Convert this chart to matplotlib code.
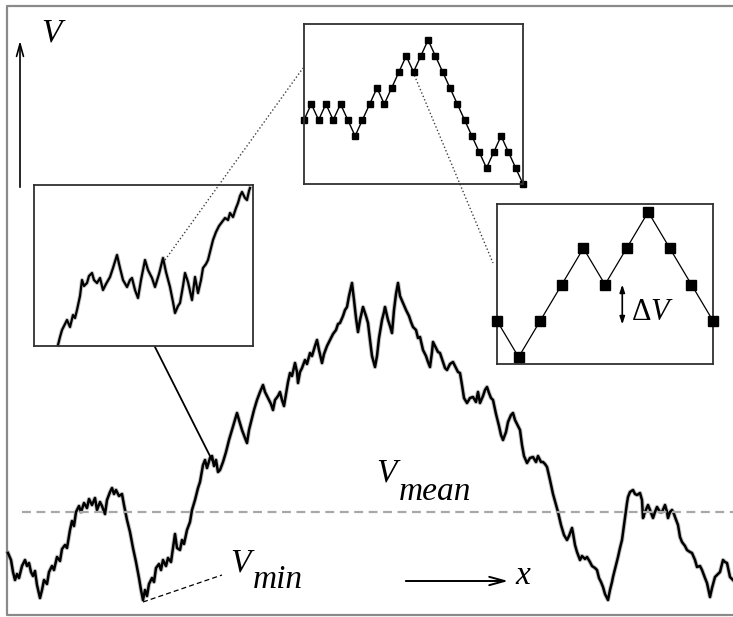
# Rough potential landscape V(x) with two successive zooms onto the
# discrete walk underneath it.

import matplotlib.pyplot as plt

W, H = 733, 617  # canvas size, y grows downward

# main landscape, (x, depth) in canvas units
main_trace = [
    (8, 553), (11, 560), (13, 572), (15, 580), (17, 574), (19, 578), (22, 566),
    (25, 560), (27, 566), (29, 563), (31, 572), (33, 576), (35, 571), (37, 585),
    (40, 598), (42, 590), (44, 580), (47, 584), (49, 572), (52, 566), (54, 570),
    (57, 557), (60, 561), (62, 549), (65, 545), (67, 548), (70, 530), (72, 521),
    (74, 526), (76, 512), (79, 506), (81, 512), (84, 503), (87, 508), (89, 499),
    (92, 505), (95, 498), (97, 510), (100, 502), (102, 506), (105, 514),
    (107, 500), (110, 492), (112, 488), (114, 494), (116, 490), (119, 496),
    (122, 494), (124, 505), (127, 520), (130, 532), (133, 548), (136, 562),
    (139, 578), (141, 590), (143, 600), (145, 590), (147, 596), (149, 584),
    (152, 578), (154, 582), (156, 568), (159, 564), (161, 570), (163, 560),
    (166, 566), (168, 558), (171, 562), (173, 548), (175, 534), (177, 548),
    (180, 550), (182, 540), (184, 544), (187, 530), (190, 522), (192, 510),
    (195, 500), (198, 488), (200, 482), (203, 465), (205, 460), (207, 468),
    (210, 458), (212, 456), (214, 466), (216, 460), (218, 472), (220, 470),
    (223, 462), (226, 452), (229, 440), (232, 430), (235, 420), (237, 413),
    (239, 420), (242, 430), (245, 438), (247, 443), (249, 430), (251, 422),
    (254, 410), (257, 400), (260, 392), (263, 385), (265, 392), (268, 398),
    (271, 404), (273, 410), (275, 400), (278, 396), (280, 392), (282, 400),
    (284, 406), (286, 394), (288, 382), (290, 373), (292, 376), (295, 363),
    (297, 372), (298, 383), (300, 372), (302, 368), (305, 360), (307, 364),
    (310, 353), (312, 356), (315, 346), (317, 340), (319, 350), (322, 363),
    (324, 354), (327, 346), (330, 340), (333, 334), (336, 330), (338, 324),
    (340, 323), (343, 316), (345, 310), (347, 307), (349, 296), (352, 283),
    (354, 300), (356, 318), (358, 332), (360, 320), (363, 307), (366, 316),
    (368, 323), (370, 340), (372, 356), (375, 367), (377, 356), (379, 338),
    (382, 320), (384, 312), (385, 307), (388, 320), (390, 326), (392, 333),
    (394, 310), (396, 294), (398, 283), (400, 296), (403, 303), (406, 310),
    (409, 316), (411, 322), (413, 327), (416, 330), (418, 338), (420, 337),
    (423, 350), (426, 356), (428, 362), (430, 367), (432, 352), (433, 342),
    (436, 348), (438, 352), (440, 353), (443, 362), (445, 368), (447, 370),
    (450, 364), (453, 362), (456, 368), (458, 372), (460, 373), (462, 385),
    (464, 398), (467, 403), (470, 398), (473, 397), (476, 402), (478, 392),
    (480, 403), (483, 396), (485, 390), (487, 387), (489, 393), (491, 398),
    (493, 400), (496, 414), (499, 426), (501, 435), (503, 440), (506, 432),
    (508, 422), (511, 415), (513, 413), (515, 420), (518, 426), (520, 430),
    (522, 445), (524, 456), (527, 463), (530, 458), (533, 457), (536, 462),
    (538, 456), (541, 462), (543, 462), (545, 464), (547, 467), (550, 480),
    (553, 494), (556, 505), (558, 512), (561, 525), (564, 535), (567, 540),
    (569, 536), (572, 528), (573, 533), (575, 545), (577, 552), (580, 560),
    (582, 556), (585, 559), (587, 557), (590, 562), (592, 566), (595, 568),
    (597, 570), (599, 578), (601, 582), (603, 587), (605, 594), (607, 598),
    (608, 600), (610, 590), (612, 582), (613, 577), (616, 565), (618, 557),
    (620, 548), (622, 540), (624, 525), (625, 517), (627, 503), (628, 497),
    (630, 492), (633, 490), (635, 494), (637, 495), (640, 493), (642, 500),
    (643, 518), (645, 512), (648, 505), (650, 510), (653, 518), (655, 512),
    (657, 507), (660, 512), (662, 512), (665, 505), (667, 512), (668, 518),
    (670, 512), (672, 510), (674, 514), (675, 517), (678, 525), (680, 537),
    (682, 542), (685, 546), (687, 550), (690, 552), (692, 553), (695, 560),
    (697, 567), (700, 566), (702, 570), (705, 578), (707, 583), (709, 592),
    (710, 597), (712, 588), (715, 577), (717, 575), (720, 572), (722, 564),
    (723, 560), (725, 562), (727, 563), (729, 572), (730, 577), (733, 580),
]
x_main, v_main = zip(*main_trace)
v_mean = 512
x_vmin, v_vmin = 143, 602

# first zoom: (x, height) inside its own box
zoom1_trace = [
    (24, 1), (26, 9), (28, 16), (31, 22), (33, 26), (36, 19), (39, 31),
    (41, 28), (43, 36), (46, 50), (48, 66), (50, 60), (53, 63), (55, 70),
    (58, 73), (60, 66), (63, 63), (66, 68), (69, 56), (72, 62), (76, 69),
    (79, 78), (83, 91), (86, 78), (89, 66), (93, 59), (96, 66), (98, 68),
    (101, 56), (104, 48), (107, 66), (111, 86), (114, 76), (118, 68),
    (121, 59), (125, 72), (129, 88), (132, 74), (136, 59), (139, 44),
    (141, 33), (144, 40), (146, 43), (149, 60), (151, 73), (154, 64),
    (158, 46), (161, 69), (164, 53), (167, 66), (169, 78), (172, 82),
    (174, 86), (177, 98), (179, 106), (182, 114), (185, 120), (188, 124),
    (191, 128), (194, 126), (196, 133), (199, 129), (202, 138), (204, 143),
    (206, 150), (208, 154), (211, 148), (213, 146), (215, 155), (216, 158),
]
x_zoom1, v_zoom1 = zip(*zoom1_trace)

# second zoom: the walk, one level per step
walk_levels = [0, 1, 0, 1, 0, 1, 0, -1, 0, 1, 2, 1, 2, 3, 4, 3, 4, 5, 4, 3,
               2, 1, 0, -1, -2, -3, -2, -1, -2, -3, -4]
# third zoom: a few steps of the walk
step_levels = [0, -1, 0, 1, 2, 1, 2, 3, 2, 1, 0]

SERIF = 'Liberation Serif'
plt.rcParams['mathtext.fontset'] = 'custom'
plt.rcParams['mathtext.rm'] = SERIF
plt.rcParams['mathtext.it'] = SERIF + ':italic'


def box(left, top, right, bottom):
    """Canvas box -> figure fraction rect."""
    return [left / W, 1 - bottom / H, (right - left) / W, (bottom - top) / H]


def framed(fig, rect):
    a = fig.add_axes(rect)
    a.set_facecolor('none')
    a.set_xticks([])
    a.set_yticks([])
    for s in a.spines.values():
        s.set_linewidth(1.3)
        s.set_color('#303030')
    return a


def rough_line(a, xs, ys, lw, **kw):
    # soft grey underlay gives the noisy trace its fuzzy edge
    a.plot(xs, ys, color='#555555', lw=lw + 1.4, alpha=0.35, **kw)
    a.plot(xs, ys, color='black', lw=lw, **kw)


fig = plt.figure(figsize=(W / 100, H / 100), dpi=100)
ax = fig.add_axes([0, 0, 1, 1])
ax.set_xlim(0, W)
ax.set_ylim(H, 0)
ax.axis('off')

# outer frame (open on the right)
ax.plot([W + 5, 7, 7, W + 5], [6, 6, 615, 615], color='#8a8a8a', lw=1.6,
        clip_on=False)

rough_line(ax, x_main, v_main, 1.8)
ax.axhline(v_mean, xmin=22 / W, color='#a8a8a8', lw=1.6, dashes=(4, 2.5))

# V_min pointer
ax.plot([x_vmin, 222], [v_vmin, 575], color='black', lw=0.9, dashes=(4, 2.5))

# connectors between the zoom levels
ax.plot([165, 303], [260, 68], color='#404040', lw=1.0, ls=':')
ax.plot([413, 493], [72, 263], color='#404040', lw=1.0, ls=':')
ax.plot([155, 212], [347, 460], color='black', lw=1.3)

# axis arrows
ax.annotate('', xy=(20, 38), xytext=(20, 190),
            arrowprops=dict(arrowstyle='->,head_length=0.9,head_width=0.25',
                            color='black', lw=1.2))
ax.annotate('', xy=(511, 581), xytext=(403, 581),
            arrowprops=dict(arrowstyle='->,head_length=1.1,head_width=0.3',
                            color='black', lw=1.4))

txt = dict(family=SERIF, style='italic', fontsize=24, color='black')
ax.text(41, 42, 'V', ha='left', va='baseline', **txt)
ax.text(515, 584, 'x', ha='left', va='baseline', **txt)
ax.text(376, 482, 'V', ha='left', va='baseline', **txt)
ax.text(399, 500, 'mean', ha='left', va='baseline', **txt)
ax.text(230, 572, 'V', ha='left', va='baseline', **txt)
ax.text(253, 588, 'min', ha='left', va='baseline', **txt)

# zoom 1: rough stretch of the landscape
ax1 = framed(fig, box(34, 185, 253, 346))
ax1.set_xlim(0, 219)
ax1.set_ylim(0, 161)
rough_line(ax1, x_zoom1, v_zoom1, 1.6, clip_on=False)

# zoom 2: the walk with unit steps
ax2 = framed(fig, box(304, 24, 523, 184))
ax2.set_xlim(0, len(walk_levels) - 1)
ax2.set_ylim(-4, 6)
ax2.plot(range(len(walk_levels)), walk_levels, color='black', lw=1.0,
         marker='s', ms=3.8, clip_on=False)

# zoom 3: single steps of height dV
ax3 = framed(fig, box(497, 204, 713, 364))
ax3.set_xlim(0, len(step_levels) - 1)
ax3.set_ylim(-1.19, 3.22)
ax3.plot(range(len(step_levels)), step_levels, color='black', lw=0.9,
         marker='s', ms=7, clip_on=False, zorder=3)
ax3.annotate('', xy=(5.8, 1.0), xytext=(5.8, -0.1),
             arrowprops=dict(arrowstyle='<|-|>,head_length=0.45,head_width=0.15',
                             color='black', lw=1.2, shrinkA=0, shrinkB=0))
ax3.text(6.2, 0.03, r'$\mathrm{\Delta}V$', fontsize=22, ha='left',
         va='baseline')

fig.savefig('out.png', dpi=100)
